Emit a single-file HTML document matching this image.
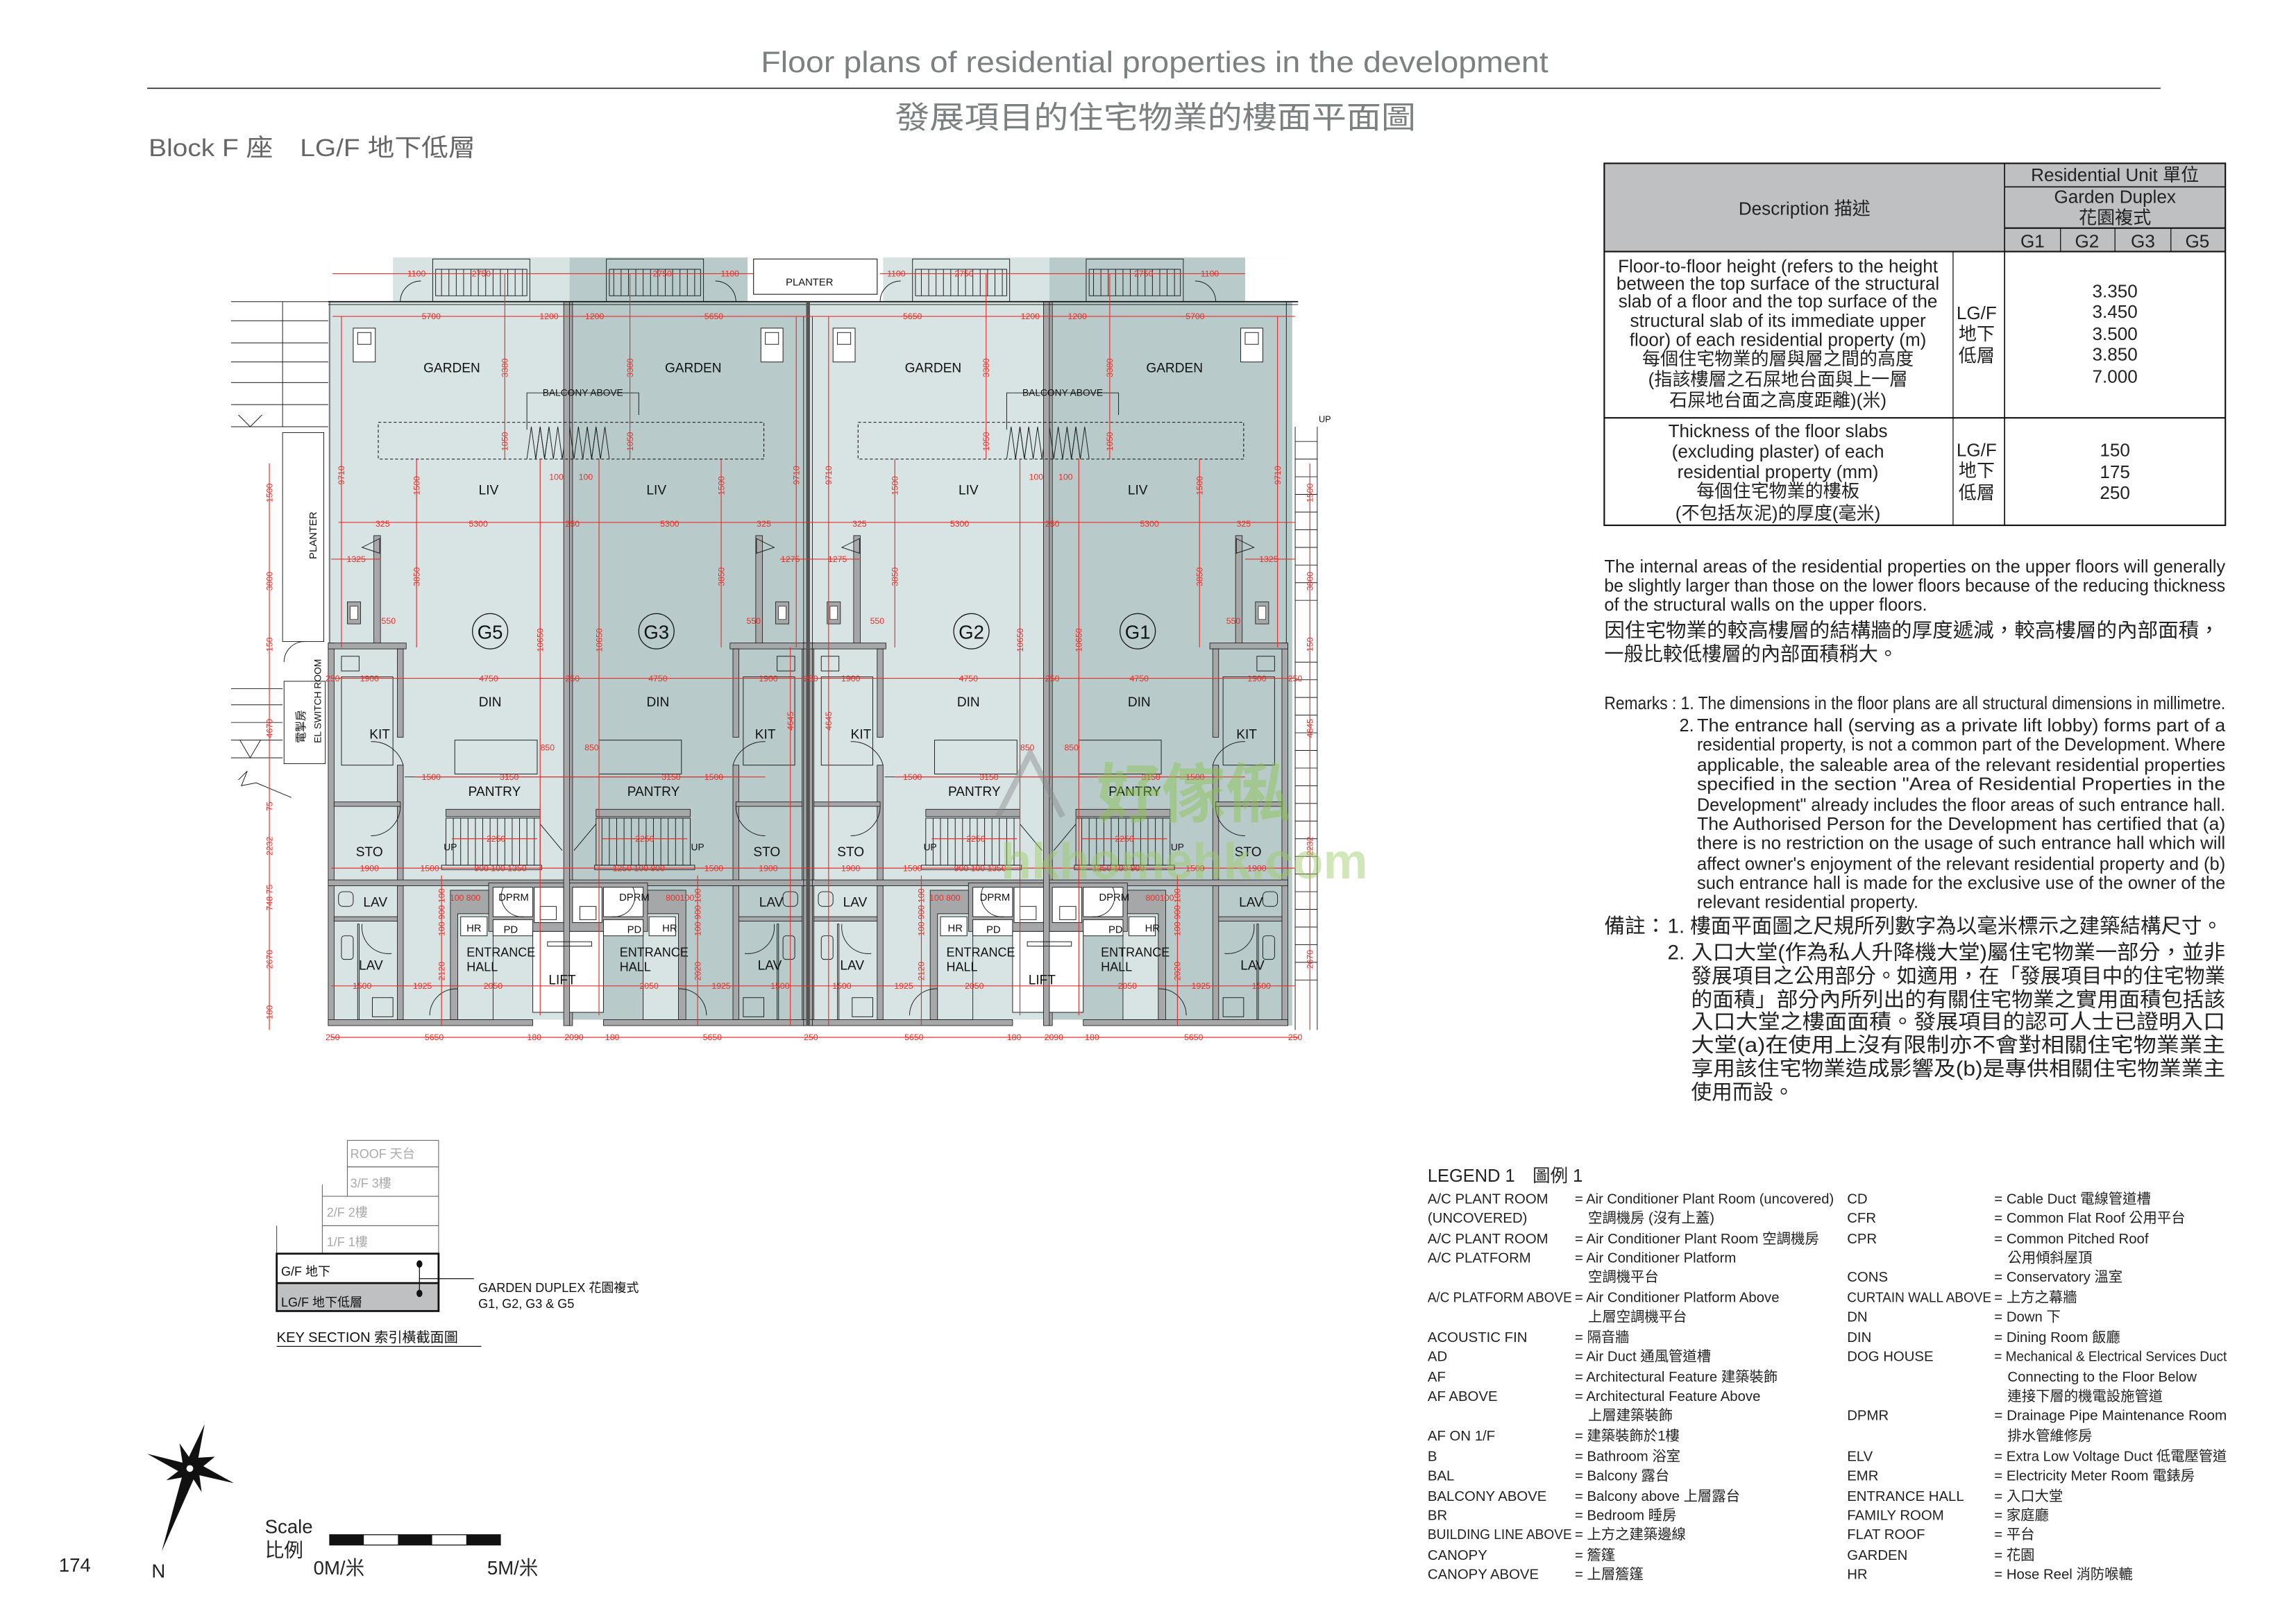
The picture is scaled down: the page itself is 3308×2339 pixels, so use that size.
<!DOCTYPE html>
<html><head><meta charset="utf-8">
<style>
html,body{margin:0;padding:0;background:#fff;}
svg{display:block;}
text{font-family:"Liberation Sans","Noto Sans CJK TC",sans-serif;}
.pl{font-size:9px;fill:#111;}
.dm{font-size:5.8px;fill:#e5302a;}
.red{stroke:#e5302a;stroke-width:0.55;fill:none;}
.wall{fill:#a6a7a9;stroke:#1a1a1a;stroke-width:0.4;}
.ln{stroke:#1a1a1a;stroke-width:0.45;fill:none;}
.wh{fill:#fff;stroke:#1a1a1a;stroke-width:0.45;}
</style></head>
<body>
<svg width="3308" height="2339" viewBox="0 0 1560 1103" preserveAspectRatio="none" xmlns="http://www.w3.org/2000/svg">
<rect width="1560" height="1103" fill="#fff"/>
<text x="517" y="49" font-size="20" fill="#7b8080" textLength="535" lengthAdjust="spacingAndGlyphs">Floor plans of residential properties in the development</text>
<line x1="100" y1="60" x2="1468" y2="60" stroke="#333" stroke-width="0.8"/>
<text x="608" y="87" font-size="21" fill="#7b8080" textLength="354" lengthAdjust="spacingAndGlyphs">發展項目的住宅物業的樓面平面圖</text>
<text x="101" y="106" font-size="16.5" fill="#666" textLength="222" lengthAdjust="spacingAndGlyphs">Block F 座　LG/F 地下低層</text>

<!-- Table -->
<g font-size="12.3" fill="#222">
<rect x="1090" y="111" width="422" height="60" fill="#bfc0c2"/>
<rect x="1090" y="111" width="422" height="246" fill="none" stroke="#111" stroke-width="1"/>
<line x1="1362" y1="111" x2="1362" y2="357" stroke="#111" stroke-width="0.8"/>
<line x1="1362" y1="127" x2="1512" y2="127" stroke="#111" stroke-width="0.8"/>
<line x1="1362" y1="155" x2="1512" y2="155" stroke="#111" stroke-width="1"/>
<line x1="1400" y1="155" x2="1400" y2="171" stroke="#111" stroke-width="0.6"/>
<line x1="1437" y1="155" x2="1437" y2="171" stroke="#111" stroke-width="0.6"/>
<line x1="1475" y1="155" x2="1475" y2="171" stroke="#111" stroke-width="0.6"/>
<line x1="1090" y1="171" x2="1512" y2="171" stroke="#111" stroke-width="1"/>
<line x1="1090" y1="284" x2="1512" y2="284" stroke="#111" stroke-width="1"/>
<line x1="1327" y1="171" x2="1327" y2="357" stroke="#111" stroke-width="0.6"/>
<text x="1437" y="123" text-anchor="middle">Residential Unit 單位</text>
<text x="1437" y="138" text-anchor="middle">Garden Duplex</text>
<text x="1437" y="152" text-anchor="middle">花園複式</text>
<text x="1226" y="146" text-anchor="middle">Description 描述</text>
<text x="1381" y="168" text-anchor="middle">G1</text>
<text x="1418" y="168" text-anchor="middle">G2</text>
<text x="1456" y="168" text-anchor="middle">G3</text>
<text x="1493" y="168" text-anchor="middle">G5</text>
<g text-anchor="middle">
<text x="1208" y="185">Floor-to-floor height (refers to the height</text>
<text x="1208" y="197">between the top surface of the structural</text>
<text x="1208" y="209">slab of a floor and the top surface of the</text>
<text x="1208" y="222">structural slab of its immediate upper</text>
<text x="1208" y="235">floor) of each residential property (m)</text>
<text x="1208" y="248">每個住宅物業的層與層之間的高度</text>
<text x="1208" y="262">(指該樓層之石屎地台面與上一層</text>
<text x="1208" y="276">石屎地台面之高度距離)(米)</text>
<text x="1343" y="217">LG/F</text><text x="1343" y="231">地下</text><text x="1343" y="246">低層</text>
<text x="1437" y="202">3.350</text><text x="1437" y="216">3.450</text><text x="1437" y="231">3.500</text><text x="1437" y="245">3.850</text><text x="1437" y="260">7.000</text>
<text x="1208" y="297">Thickness of the floor slabs</text>
<text x="1208" y="311">(excluding plaster) of each</text>
<text x="1208" y="325">residential property (mm)</text>
<text x="1208" y="338">每個住宅物業的樓板</text>
<text x="1208" y="353">(不包括灰泥)的厚度(毫米)</text>
<text x="1343" y="310">LG/F</text><text x="1343" y="324">地下</text><text x="1343" y="339">低層</text>
<text x="1437" y="310">150</text><text x="1437" y="325">175</text><text x="1437" y="339">250</text>
</g>
</g>

<!-- Paragraph -->
<g font-size="12" fill="#222">
<text x="1090" y="389" textLength="422" lengthAdjust="spacingAndGlyphs">The internal areas of the residential properties on the upper floors will generally</text>
<text x="1090" y="402" textLength="422" lengthAdjust="spacingAndGlyphs">be slightly larger than those on the lower floors because of the reducing thickness</text>
<text x="1090" y="415">of the structural walls on the upper floors.</text>
<text x="1090" y="433" font-size="13.3" textLength="418" lengthAdjust="spacingAndGlyphs">因住宅物業的較高樓層的結構牆的厚度遞減，較高樓層的內部面積，</text>
<text x="1090" y="449" font-size="13.3">一般比較低樓層的內部面積稍大。</text>

<text x="1090" y="482" textLength="422" lengthAdjust="spacingAndGlyphs">Remarks : 1. The dimensions in the floor plans are all structural dimensions in millimetre.</text>
<text x="1141" y="497">2.</text>
<text x="1153" y="497" textLength="359" lengthAdjust="spacingAndGlyphs">The entrance hall (serving as a private lift lobby) forms part of a</text>
<text x="1153" y="510" textLength="359" lengthAdjust="spacingAndGlyphs">residential property, is not a common part of the Development. Where</text>
<text x="1153" y="524" textLength="359" lengthAdjust="spacingAndGlyphs">applicable, the saleable area of the relevant residential properties</text>
<text x="1153" y="537" textLength="359" lengthAdjust="spacingAndGlyphs">specified in the section "Area of Residential Properties in the</text>
<text x="1153" y="551" textLength="359" lengthAdjust="spacingAndGlyphs">Development" already includes the floor areas of such entrance hall.</text>
<text x="1153" y="564" textLength="359" lengthAdjust="spacingAndGlyphs">The Authorised Person for the Development has certified that (a)</text>
<text x="1153" y="577" textLength="359" lengthAdjust="spacingAndGlyphs">there is no restriction on the usage of such entrance hall which will</text>
<text x="1153" y="591" textLength="359" lengthAdjust="spacingAndGlyphs">affect owner's enjoyment of the relevant residential property and (b)</text>
<text x="1153" y="604" textLength="359" lengthAdjust="spacingAndGlyphs">such entrance hall is made for the exclusive use of the owner of the</text>
<text x="1153" y="617">relevant residential property.</text>
<g font-size="14">
<text x="1090" y="634">備註：</text>
<text x="1133" y="634" textLength="377" lengthAdjust="spacingAndGlyphs">1. 樓面平面圖之尺規所列數字為以毫米標示之建築結構尺寸。</text>
<text x="1133" y="652">2.</text>
<text x="1149" y="652" textLength="363" lengthAdjust="spacingAndGlyphs">入口大堂(作為私人升降機大堂)屬住宅物業一部分，並非</text>
<text x="1149" y="668" textLength="363" lengthAdjust="spacingAndGlyphs">發展項目之公用部分。如適用，在「發展項目中的住宅物業</text>
<text x="1149" y="684" textLength="363" lengthAdjust="spacingAndGlyphs">的面積」部分內所列出的有關住宅物業之實用面積包括該</text>
<text x="1149" y="699" textLength="363" lengthAdjust="spacingAndGlyphs">入口大堂之樓面面積。發展項目的認可人士已證明入口</text>
<text x="1149" y="715" textLength="363" lengthAdjust="spacingAndGlyphs">大堂(a)在使用上沒有限制亦不會對相關住宅物業業主</text>
<text x="1149" y="731" textLength="363" lengthAdjust="spacingAndGlyphs">享用該住宅物業造成影響及(b)是專供相關住宅物業業主</text>
<text x="1149" y="747">使用而設。</text>
</g>
</g>

<!-- Legend -->
<g font-size="9.6" fill="#222">
<text x="970" y="803" font-size="12">LEGEND 1　圖例 1</text>
<text x="970" y="818">A/C PLANT ROOM</text><text x="1070" y="818" textLength="176" lengthAdjust="spacingAndGlyphs">= Air Conditioner Plant Room (uncovered)</text>
<text x="970" y="831">(UNCOVERED)</text><text x="1079" y="831">空調機房 (沒有上蓋)</text>
<text x="970" y="845">A/C PLANT ROOM</text><text x="1070" y="845" textLength="166" lengthAdjust="spacingAndGlyphs">= Air Conditioner Plant Room 空調機房</text>
<text x="970" y="858">A/C PLATFORM</text><text x="1070" y="858">= Air Conditioner Platform</text>
<text x="1079" y="871">空調機平台</text>
<text x="970" y="885" textLength="98" lengthAdjust="spacingAndGlyphs">A/C PLATFORM ABOVE</text><text x="1070" y="885">= Air Conditioner Platform Above</text>
<text x="1079" y="898">上層空調機平台</text>
<text x="970" y="912">ACOUSTIC FIN</text><text x="1070" y="912">= 隔音牆</text>
<text x="970" y="925">AD</text><text x="1070" y="925">= Air Duct 通風管道槽</text>
<text x="970" y="939">AF</text><text x="1070" y="939">= Architectural Feature 建築裝飾</text>
<text x="970" y="952">AF ABOVE</text><text x="1070" y="952">= Architectural Feature Above</text>
<text x="1079" y="965">上層建築裝飾</text>
<text x="970" y="979">AF ON 1/F</text><text x="1070" y="979">= 建築裝飾於1樓</text>
<text x="970" y="993">B</text><text x="1070" y="993">= Bathroom 浴室</text>
<text x="970" y="1006">BAL</text><text x="1070" y="1006">= Balcony 露台</text>
<text x="970" y="1020">BALCONY ABOVE</text><text x="1070" y="1020">= Balcony above 上層露台</text>
<text x="970" y="1033">BR</text><text x="1070" y="1033">= Bedroom 睡房</text>
<text x="970" y="1046" textLength="98" lengthAdjust="spacingAndGlyphs">BUILDING LINE ABOVE</text><text x="1070" y="1046">= 上方之建築邊線</text>
<text x="970" y="1060">CANOPY</text><text x="1070" y="1060">= 簷篷</text>
<text x="970" y="1073">CANOPY ABOVE</text><text x="1070" y="1073">= 上層簷篷</text>

<text x="1255" y="818">CD</text><text x="1355" y="818">= Cable Duct 電線管道槽</text>
<text x="1255" y="831">CFR</text><text x="1355" y="831">= Common Flat Roof 公用平台</text>
<text x="1255" y="845">CPR</text><text x="1355" y="845">= Common Pitched Roof</text>
<text x="1364" y="858">公用傾斜屋頂</text>
<text x="1255" y="871">CONS</text><text x="1355" y="871">= Conservatory 溫室</text>
<text x="1255" y="885" textLength="98" lengthAdjust="spacingAndGlyphs">CURTAIN WALL ABOVE</text><text x="1355" y="885">= 上方之幕牆</text>
<text x="1255" y="898">DN</text><text x="1355" y="898">= Down 下</text>
<text x="1255" y="912">DIN</text><text x="1355" y="912">= Dining Room 飯廳</text>
<text x="1255" y="925">DOG HOUSE</text><text x="1355" y="925" textLength="158" lengthAdjust="spacingAndGlyphs">= Mechanical &amp; Electrical Services Duct</text>
<text x="1364" y="939">Connecting to the Floor Below</text>
<text x="1364" y="952">連接下層的機電設施管道</text>
<text x="1255" y="965">DPMR</text><text x="1355" y="965" textLength="158" lengthAdjust="spacingAndGlyphs">= Drainage Pipe Maintenance Room</text>
<text x="1364" y="979">排水管維修房</text>
<text x="1255" y="993">ELV</text><text x="1355" y="993" textLength="158" lengthAdjust="spacingAndGlyphs">= Extra Low Voltage Duct 低電壓管道</text>
<text x="1255" y="1006">EMR</text><text x="1355" y="1006">= Electricity Meter Room 電錶房</text>
<text x="1255" y="1020">ENTRANCE HALL</text><text x="1355" y="1020">= 入口大堂</text>
<text x="1255" y="1033">FAMILY ROOM</text><text x="1355" y="1033">= 家庭廳</text>
<text x="1255" y="1046">FLAT ROOF</text><text x="1355" y="1046">= 平台</text>
<text x="1255" y="1060">GARDEN</text><text x="1355" y="1060">= 花園</text>
<text x="1255" y="1073">HR</text><text x="1355" y="1073">= Hose Reel 消防喉轆</text>
</g>

<!-- Key section -->
<g font-size="8.5">
<rect x="236" y="775" width="62" height="18" fill="none" stroke="#666" stroke-width="0.5"/>
<rect x="236" y="793" width="62" height="20" fill="none" stroke="#666" stroke-width="0.5"/>
<rect x="219" y="813" width="79" height="20" fill="none" stroke="#666" stroke-width="0.5"/>
<rect x="219" y="833" width="79" height="19" fill="none" stroke="#666" stroke-width="0.5"/>
<line x1="219" y1="805" x2="219" y2="813" stroke="#666" stroke-width="0.5"/>
<line x1="188" y1="833" x2="188" y2="852" stroke="#444" stroke-width="0.5"/>
<text x="238" y="787" fill="#aaa">ROOF 天台</text>
<text x="238" y="807" fill="#aaa">3/F 3樓</text>
<text x="222" y="827" fill="#aaa">2/F 2樓</text>
<text x="222" y="847" fill="#aaa">1/F 1樓</text>
<rect x="188" y="872" width="110" height="19" fill="#bfc0c2"/>
<rect x="188" y="852" width="110" height="39" fill="none" stroke="#111" stroke-width="1.3"/>
<line x1="188" y1="872" x2="298" y2="872" stroke="#111" stroke-width="1.3"/>
<text x="191" y="867" fill="#111">G/F 地下</text>
<text x="191" y="888" fill="#111">LG/F 地下低層</text>
<line x1="285" y1="859" x2="285" y2="879" stroke="#111" stroke-width="0.6"/>
<line x1="285" y1="869" x2="322" y2="869" stroke="#111" stroke-width="0.6"/>
<ellipse cx="285" cy="859" rx="2" ry="2.5" fill="#111"/>
<ellipse cx="285" cy="879" rx="2" ry="2.5" fill="#111"/>
<text x="325" y="878" fill="#111">GARDEN DUPLEX 花園複式</text>
<text x="325" y="889" fill="#111">G1, G2, G3 &amp; G5</text>
<text x="188" y="912" font-size="9.5" fill="#111">KEY SECTION 索引橫截面圖</text>
<line x1="188" y1="915" x2="327" y2="915" stroke="#111" stroke-width="0.6"/>
</g>

<!-- North arrow -->
<polygon points="139,968 132,993 159,1008 133,1002 110,1054 125,1002 100,988 124,994 122,981 129,991 146,990 135,999 137,1014 130,1003 113,1006 126,996" fill="#111"/>
<polygon points="139,968 133,1000 110,1054 126,995" fill="#111"/>
<circle cx="129" cy="998" r="2.3" fill="#fff"/>
<text x="103" y="1072" font-size="13" fill="#222">N</text>
<text x="40" y="1068" font-size="13" fill="#222">174</text>
<text x="180" y="1042" font-size="13" fill="#222">Scale</text>
<text x="180" y="1058" font-size="13" fill="#222">比例</text>
<rect x="224" y="1043" width="116" height="7" fill="#fff" stroke="#111" stroke-width="0.6"/>
<rect x="224" y="1043" width="23.2" height="7" fill="#111"/>
<rect x="270.4" y="1043" width="23.2" height="7" fill="#111"/>
<rect x="316.8" y="1043" width="23.2" height="7" fill="#111"/>
<text x="213" y="1070" font-size="13" fill="#222">0M/米</text>
<text x="331" y="1070" font-size="13" fill="#222">5M/米</text>

<!-- ================= FLOOR PLAN ================= -->
<defs>
<g id="unit">
  <rect x="240" y="223" width="15" height="23" class="wh" fill="none"/>
  <rect x="243" y="226" width="9" height="8" class="ln"/>
  <line x1="224" y1="205" x2="224" y2="437" class="ln"/>
  <rect x="223" y="437" width="4" height="260" class="wall"/>
  <rect x="254" y="364" width="4.5" height="76" class="wall"/>
  <polygon points="258,366 246,372 258,376" class="ln"/>
  <rect x="236" y="409" width="9" height="15" class="wall"/>
  <rect x="238" y="412" width="5" height="9" fill="#fff" stroke="#111" stroke-width="0.3"/>
  <rect x="223" y="437" width="53" height="4" class="wall"/>
  <rect x="270" y="441" width="4" height="60" class="wall"/>
  <rect x="270" y="520" width="4" height="80" class="wall"/>
  <path d="M274,520 A22,22 0 0 0 252,504" class="ln"/>
  <rect x="232" y="446" width="12" height="10" class="ln"/>
  <rect x="232" y="460" width="35" height="60" class="ln"/>
  <rect x="227" y="545" width="45" height="3" class="wall"/>
  <path d="M272,548 A20,20 0 0 1 252,568" class="ln"/>
  <rect x="223" y="598" width="164" height="4" class="wall"/>
  <rect x="227" y="623" width="45" height="3" class="wall"/>
  <rect x="270" y="602" width="4" height="91" class="wall"/>
  <rect x="230" y="606" width="10" height="10" rx="3" class="ln"/>
  <rect x="232" y="636" width="8" height="16" rx="2" class="ln"/>
  <rect x="243" y="628" width="1" height="65" class="ln"/>
  <path d="M246,628 A18,18 0 0 0 266,648" class="ln"/>
  <rect x="253" y="678" width="14" height="13" class="ln"/>
  <rect x="309" y="503" width="56" height="23" class="ln"/>
  <line x1="275" y1="528" x2="385" y2="528" class="ln"/>
  <rect x="303" y="550" width="64" height="5" class="wall"/>
  <rect x="303" y="556" width="64" height="32" fill="none" class="ln"/>
  <g class="ln">
   <line x1="308" y1="556" x2="308" y2="588"/><line x1="313" y1="556" x2="313" y2="588"/><line x1="318" y1="556" x2="318" y2="588"/><line x1="323" y1="556" x2="323" y2="588"/><line x1="328" y1="556" x2="328" y2="588"/><line x1="333" y1="556" x2="333" y2="588"/><line x1="338" y1="556" x2="338" y2="588"/><line x1="343" y1="556" x2="343" y2="588"/><line x1="348" y1="556" x2="348" y2="588"/><line x1="353" y1="556" x2="353" y2="588"/><line x1="358" y1="556" x2="358" y2="588"/><line x1="363" y1="556" x2="363" y2="588"/>
  </g>
  <rect x="300" y="588" width="68" height="3" class="ln"/>
  <line x1="367" y1="560" x2="382" y2="578" class="ln"/>
  <rect x="306" y="605" width="28" height="88" class="wall"/>
  <rect x="311" y="621" width="24" height="72" fill="#d7e4e3" stroke="#111" stroke-width="0.4"/>
  <rect x="313" y="623" width="18" height="13" class="wh"/>
  <rect x="332" y="600" width="53" height="33" class="wall"/>
  <rect x="335" y="603" width="27" height="20" class="wh"/>
  <rect x="335" y="625" width="27" height="11" class="wh"/>
  <rect x="363" y="603" width="20" height="24" class="wh"/>
  <rect x="367" y="616" width="11" height="9" class="ln"/>
  <path d="M342,603 A14,14 0 0 0 356,623" class="ln"/>
  <rect x="362" y="633" width="25" height="55" class="wh"/>
  <path d="M311,672 A18,18 0 0 0 292,690" class="ln"/>
  <rect x="223" y="693" width="139" height="4" class="wall"/>
  <rect x="385" y="205" width="4" height="492" class="wall"/>
  <polyline points="358,312 361,290 364,312 367,290 370,312 373,290 376,312 379,290 382,312 385,290" class="ln"/>
  <polyline points="364,312 367,290 370,312 373,290" class="ln" stroke-width="0.8"/>
  <rect x="294" y="176" width="66" height="29" fill="none" class="ln"/>
  <rect x="296" y="183" width="62" height="18" fill="none" class="ln"/>
  <g class="ln"><line x1="300" y1="183" x2="300" y2="201"/><line x1="305" y1="183" x2="305" y2="201"/><line x1="310" y1="183" x2="310" y2="201"/><line x1="315" y1="183" x2="315" y2="201"/><line x1="320" y1="183" x2="320" y2="201"/><line x1="325" y1="183" x2="325" y2="201"/><line x1="330" y1="183" x2="330" y2="201"/><line x1="335" y1="183" x2="335" y2="201"/><line x1="340" y1="183" x2="340" y2="201"/><line x1="345" y1="183" x2="345" y2="201"/><line x1="350" y1="183" x2="350" y2="201"/><line x1="355" y1="183" x2="355" y2="201"/></g>
  <path d="M272,205 A14,14 0 0 1 286,191" class="ln"/>
</g>
</defs>

<rect x="223" y="175" width="164" height="522" fill="#d7e4e3"/>
<rect x="387" y="175" width="162" height="522" fill="#b8cbca"/>
<rect x="549" y="175" width="164" height="522" fill="#d7e4e3"/>
<rect x="713" y="175" width="165" height="522" fill="#b8cbca"/>
<rect x="223" y="175" width="44" height="30" fill="#fff"/>
<rect x="508" y="175" width="92" height="30" fill="#fff"/>
<rect x="846" y="175" width="34" height="30" fill="#fff"/>
<rect x="362" y="693" width="50" height="10" fill="#fff"/>
<rect x="688" y="693" width="50" height="10" fill="#fff"/>

<use href="#unit"/>
<use href="#unit" transform="translate(772,0) scale(-1,1)"/>
<use href="#unit" transform="translate(326,0)"/>
<use href="#unit" transform="translate(1098,0) scale(-1,1)"/>

<rect x="372" y="640" width="30" height="3" class="ln"/>
<rect x="698" y="640" width="30" height="3" class="ln"/>
<line x1="223" y1="205" x2="882" y2="205" stroke="#111" stroke-width="0.8"/>
<line x1="223" y1="207" x2="882" y2="207" stroke="#111" stroke-width="0.4"/>
<rect x="512" y="176" width="84" height="24" fill="#fff" stroke="#111" stroke-width="0.5"/>
<text x="550" y="194" text-anchor="middle" font-size="7" fill="#111">PLANTER</text>
<line x1="549" y1="205" x2="549" y2="697" stroke="#555" stroke-width="2.5"/>
<line x1="546" y1="215" x2="546" y2="697" stroke="#111" stroke-width="0.4"/>
<line x1="552" y1="215" x2="552" y2="697" stroke="#111" stroke-width="0.4"/>
<rect x="257" y="287" width="262" height="25" fill="none" stroke="#111" stroke-width="0.5" stroke-dasharray="2,1.5"/>
<rect x="583" y="287" width="262" height="25" fill="none" stroke="#111" stroke-width="0.5" stroke-dasharray="2,1.5"/>
<polyline points="358,292 358,267 434,267 434,282" class="ln"/>
<polyline points="684,292 684,267 760,267 760,282" class="ln"/>
<text x="396" y="269" text-anchor="middle" font-size="6.5" fill="#111">BALCONY  ABOVE</text>
<text x="722" y="269" text-anchor="middle" font-size="6.5" fill="#111">BALCONY  ABOVE</text>

<g class="ln">
<line x1="157" y1="205" x2="223" y2="205"/><line x1="157" y1="218" x2="223" y2="218"/><line x1="157" y1="233" x2="223" y2="233"/><line x1="157" y1="246" x2="223" y2="246"/><line x1="157" y1="260" x2="223" y2="260"/><line x1="157" y1="275" x2="223" y2="275"/><line x1="157" y1="290" x2="223" y2="290"/>
<line x1="192" y1="205" x2="192" y2="290"/>
<polyline points="162,282 170,290 178,282"/>
<rect x="192" y="294" width="28" height="142"/>
<rect x="193" y="463" width="28" height="56"/>
<line x1="157" y1="468" x2="192" y2="468"/><line x1="157" y1="479" x2="192" y2="479"/><line x1="157" y1="491" x2="192" y2="491"/><line x1="157" y1="503" x2="192" y2="503"/><line x1="157" y1="515" x2="192" y2="515"/>
<polyline points="163,503 170,515 177,503"/>
<path d="M162,530 l6,-6 l-4,10 l10,-2 l24,10"/>
<path d="M193,450 A14,14 0 0 1 207,436"/>
<line x1="880" y1="290" x2="880" y2="700"/><line x1="895" y1="290" x2="895" y2="700"/>
<line x1="880" y1="300" x2="895" y2="300"/><line x1="880" y1="312" x2="895" y2="312"/><line x1="880" y1="324" x2="895" y2="324"/><line x1="880" y1="336" x2="895" y2="336"/><line x1="880" y1="348" x2="895" y2="348"/><line x1="880" y1="360" x2="895" y2="360"/><line x1="880" y1="372" x2="895" y2="372"/><line x1="880" y1="384" x2="895" y2="384"/><line x1="880" y1="396" x2="895" y2="396"/><line x1="880" y1="408" x2="895" y2="408"/>
<line x1="880" y1="450" x2="895" y2="450"/><line x1="880" y1="462" x2="895" y2="462"/><line x1="880" y1="474" x2="895" y2="474"/><line x1="880" y1="486" x2="895" y2="486"/><line x1="880" y1="498" x2="895" y2="498"/><line x1="880" y1="510" x2="895" y2="510"/><line x1="880" y1="522" x2="895" y2="522"/><line x1="880" y1="534" x2="895" y2="534"/><line x1="880" y1="546" x2="895" y2="546"/><line x1="880" y1="558" x2="895" y2="558"/><line x1="880" y1="570" x2="895" y2="570"/><line x1="880" y1="582" x2="895" y2="582"/><line x1="880" y1="594" x2="895" y2="594"/><line x1="880" y1="606" x2="895" y2="606"/><line x1="880" y1="618" x2="895" y2="618"/><line x1="880" y1="630" x2="895" y2="630"/><line x1="880" y1="642" x2="895" y2="642"/><line x1="880" y1="654" x2="895" y2="654"/><line x1="880" y1="666" x2="895" y2="666"/>
</g>
<text x="896" y="287" font-size="6" fill="#111">UP</text>
<text transform="translate(215,380) rotate(-90)" font-size="7" fill="#111">PLANTER</text>
<text transform="translate(207,505) rotate(-90)" font-size="7.5" fill="#111">電掣房</text>
<text transform="translate(218,505) rotate(-90)" font-size="6.5" fill="#111">EL SWITCH ROOM</text>

<g class="red">
<line x1="226" y1="186" x2="512" y2="186"/><line x1="598" y1="186" x2="846" y2="186"/>
<line x1="226" y1="215" x2="880" y2="215"/>
<line x1="230" y1="355" x2="880" y2="355"/>
<line x1="225" y1="380" x2="258" y2="380"/><line x1="530" y1="380" x2="584" y2="380"/><line x1="846" y1="380" x2="880" y2="380"/>
<line x1="225" y1="461" x2="880" y2="461"/>
<line x1="225" y1="590" x2="880" y2="590"/>
<line x1="225" y1="670" x2="880" y2="670"/>
<line x1="225" y1="705" x2="882" y2="705"/>
<line x1="183" y1="315" x2="183" y2="700"/>
<line x1="890" y1="315" x2="890" y2="700"/>
<line x1="232" y1="215" x2="232" y2="440"/><line x1="541" y1="215" x2="541" y2="440"/><line x1="563" y1="215" x2="563" y2="440"/><line x1="868" y1="215" x2="868" y2="440"/>
<line x1="343" y1="186" x2="343" y2="312"/><line x1="428" y1="186" x2="428" y2="312"/><line x1="670" y1="186" x2="670" y2="312"/><line x1="754" y1="186" x2="754" y2="312"/>
<line x1="367" y1="312" x2="367" y2="690"/><line x1="407" y1="312" x2="407" y2="690"/><line x1="693" y1="312" x2="693" y2="690"/><line x1="733" y1="312" x2="733" y2="690"/>
<line x1="283" y1="312" x2="283" y2="440"/><line x1="490" y1="312" x2="490" y2="440"/><line x1="608" y1="312" x2="608" y2="440"/><line x1="815" y1="312" x2="815" y2="440"/>
<line x1="537" y1="440" x2="537" y2="697"/><line x1="563" y1="440" x2="563" y2="697"/>
<line x1="300" y1="595" x2="300" y2="697"/><line x1="474" y1="595" x2="474" y2="697"/><line x1="626" y1="595" x2="626" y2="697"/><line x1="800" y1="595" x2="800" y2="697"/>
<line x1="282" y1="528" x2="520" y2="528"/><line x1="608" y1="528" x2="846" y2="528"/>
<line x1="307" y1="570" x2="365" y2="570"/><line x1="409" y1="570" x2="467" y2="570"/><line x1="633" y1="570" x2="691" y2="570"/><line x1="735" y1="570" x2="793" y2="570"/>
</g>
<g class="dm">
<text x="283" y="188" text-anchor="middle">1100</text><text x="327" y="188" text-anchor="middle">2750</text><text x="450" y="188" text-anchor="middle">2750</text><text x="496" y="188" text-anchor="middle">1100</text>
<text x="609" y="188" text-anchor="middle">1100</text><text x="655" y="188" text-anchor="middle">2750</text><text x="777" y="188" text-anchor="middle">2750</text><text x="822" y="188" text-anchor="middle">1100</text>
<text x="293" y="217" text-anchor="middle">5700</text><text x="373" y="217" text-anchor="middle">1200</text><text x="404" y="217" text-anchor="middle">1200</text><text x="485" y="217" text-anchor="middle">5650</text>
<text x="620" y="217" text-anchor="middle">5650</text><text x="700" y="217" text-anchor="middle">1200</text><text x="732" y="217" text-anchor="middle">1200</text><text x="812" y="217" text-anchor="middle">5700</text>
<text x="325" y="358" text-anchor="middle">5300</text><text x="455" y="358" text-anchor="middle">5300</text><text x="652" y="358" text-anchor="middle">5300</text><text x="781" y="358" text-anchor="middle">5300</text>
<text x="260" y="358" text-anchor="middle">325</text><text x="389" y="358" text-anchor="middle">250</text><text x="519" y="358" text-anchor="middle">325</text><text x="584" y="358" text-anchor="middle">325</text><text x="715" y="358" text-anchor="middle">250</text><text x="845" y="358" text-anchor="middle">325</text>
<text x="242" y="382" text-anchor="middle">1325</text><text x="537" y="382" text-anchor="middle">1275</text><text x="569" y="382" text-anchor="middle">1275</text><text x="862" y="382" text-anchor="middle">1325</text>
<text x="251" y="463" text-anchor="middle">1900</text><text x="332" y="463" text-anchor="middle">4750</text><text x="447" y="463" text-anchor="middle">4750</text><text x="522" y="463" text-anchor="middle">1900</text>
<text x="578" y="463" text-anchor="middle">1900</text><text x="658" y="463" text-anchor="middle">4750</text><text x="774" y="463" text-anchor="middle">4750</text><text x="854" y="463" text-anchor="middle">1900</text>
<text x="226" y="463" text-anchor="middle">250</text><text x="389" y="463" text-anchor="middle">250</text><text x="551" y="463" text-anchor="middle">250</text><text x="715" y="463" text-anchor="middle">250</text><text x="880" y="463" text-anchor="middle">250</text>
<text x="293" y="530" text-anchor="middle">1500</text><text x="346" y="530" text-anchor="middle">3150</text><text x="456" y="530" text-anchor="middle">3150</text><text x="485" y="530" text-anchor="middle">1500</text>
<text x="620" y="530" text-anchor="middle">1500</text><text x="672" y="530" text-anchor="middle">3150</text><text x="782" y="530" text-anchor="middle">3150</text><text x="812" y="530" text-anchor="middle">1500</text>
<text x="337" y="572" text-anchor="middle">2250</text><text x="438" y="572" text-anchor="middle">2250</text><text x="663" y="572" text-anchor="middle">2250</text><text x="764" y="572" text-anchor="middle">2250</text>
<text x="251" y="592" text-anchor="middle">1900</text><text x="292" y="592" text-anchor="middle">1500</text><text x="340" y="592" text-anchor="middle">900 100 1350</text><text x="434" y="592" text-anchor="middle">1250 100 900</text><text x="485" y="592" text-anchor="middle">1500</text><text x="522" y="592" text-anchor="middle">1900</text>
<text x="578" y="592" text-anchor="middle">1900</text><text x="620" y="592" text-anchor="middle">1500</text><text x="666" y="592" text-anchor="middle">900 100 1350</text><text x="760" y="592" text-anchor="middle">1250 100 900</text><text x="812" y="592" text-anchor="middle">1500</text><text x="854" y="592" text-anchor="middle">1900</text>
<text x="246" y="672" text-anchor="middle">1500</text><text x="287" y="672" text-anchor="middle">1925</text><text x="335" y="672" text-anchor="middle">2050</text><text x="441" y="672" text-anchor="middle">2050</text><text x="490" y="672" text-anchor="middle">1925</text><text x="530" y="672" text-anchor="middle">1500</text>
<text x="572" y="672" text-anchor="middle">1500</text><text x="614" y="672" text-anchor="middle">1925</text><text x="662" y="672" text-anchor="middle">2050</text><text x="766" y="672" text-anchor="middle">2050</text><text x="816" y="672" text-anchor="middle">1925</text><text x="857" y="672" text-anchor="middle">1500</text>
<text x="226" y="707" text-anchor="middle">250</text><text x="295" y="707" text-anchor="middle">5650</text><text x="363" y="707" text-anchor="middle">180</text><text x="390" y="707" text-anchor="middle">2090</text><text x="416" y="707" text-anchor="middle">180</text><text x="484" y="707" text-anchor="middle">5650</text><text x="551" y="707" text-anchor="middle">250</text>
<text x="621" y="707" text-anchor="middle">5650</text><text x="689" y="707" text-anchor="middle">180</text><text x="716" y="707" text-anchor="middle">2090</text><text x="742" y="707" text-anchor="middle">180</text><text x="811" y="707" text-anchor="middle">5650</text><text x="880" y="707" text-anchor="middle">250</text>
<text transform="translate(185,335) rotate(-90)" text-anchor="middle">1500</text>
<text transform="translate(185,395) rotate(-90)" text-anchor="middle">3800</text>
<text transform="translate(185,438) rotate(-90)" text-anchor="middle">150</text>
<text transform="translate(185,495) rotate(-90)" text-anchor="middle">4670</text>
<text transform="translate(185,548) rotate(-90)" text-anchor="middle">75</text>
<text transform="translate(185,575) rotate(-90)" text-anchor="middle">2232</text>
<text transform="translate(185,610) rotate(-90)" text-anchor="middle">748 75</text>
<text transform="translate(185,652) rotate(-90)" text-anchor="middle">2670</text>
<text transform="translate(185,688) rotate(-90)" text-anchor="middle">180</text>
<text transform="translate(892,335) rotate(-90)" text-anchor="middle">1500</text>
<text transform="translate(892,395) rotate(-90)" text-anchor="middle">3800</text>
<text transform="translate(892,438) rotate(-90)" text-anchor="middle">150</text>
<text transform="translate(892,495) rotate(-90)" text-anchor="middle">4645</text>
<text transform="translate(892,575) rotate(-90)" text-anchor="middle">2232</text>
<text transform="translate(892,652) rotate(-90)" text-anchor="middle">2670</text>
<text transform="translate(234,323) rotate(-90)" text-anchor="middle">9710</text><text transform="translate(543,323) rotate(-90)" text-anchor="middle">9710</text><text transform="translate(565,323) rotate(-90)" text-anchor="middle">9710</text><text transform="translate(870,323) rotate(-90)" text-anchor="middle">9710</text>
<text transform="translate(345,250) rotate(-90)" text-anchor="middle">3380</text><text transform="translate(430,250) rotate(-90)" text-anchor="middle">3380</text><text transform="translate(672,250) rotate(-90)" text-anchor="middle">3380</text><text transform="translate(756,250) rotate(-90)" text-anchor="middle">3380</text>
<text transform="translate(345,300) rotate(-90)" text-anchor="middle">1050</text><text transform="translate(430,300) rotate(-90)" text-anchor="middle">1050</text><text transform="translate(672,300) rotate(-90)" text-anchor="middle">1050</text><text transform="translate(756,300) rotate(-90)" text-anchor="middle">1050</text>
<text transform="translate(369,435) rotate(-90)" text-anchor="middle">10650</text><text transform="translate(409,435) rotate(-90)" text-anchor="middle">10650</text><text transform="translate(695,435) rotate(-90)" text-anchor="middle">10650</text><text transform="translate(735,435) rotate(-90)" text-anchor="middle">10650</text>
<text transform="translate(285,330) rotate(-90)" text-anchor="middle">1500</text><text transform="translate(492,330) rotate(-90)" text-anchor="middle">1500</text><text transform="translate(610,330) rotate(-90)" text-anchor="middle">1500</text><text transform="translate(817,330) rotate(-90)" text-anchor="middle">1500</text>
<text transform="translate(285,392) rotate(-90)" text-anchor="middle">3850</text><text transform="translate(492,392) rotate(-90)" text-anchor="middle">3850</text><text transform="translate(610,392) rotate(-90)" text-anchor="middle">3850</text><text transform="translate(817,392) rotate(-90)" text-anchor="middle">3850</text>
<text transform="translate(539,490) rotate(-90)" text-anchor="middle">4645</text><text transform="translate(565,490) rotate(-90)" text-anchor="middle">4645</text>
<text transform="translate(302,660) rotate(-90)" text-anchor="middle">2120</text><text transform="translate(476,660) rotate(-90)" text-anchor="middle">2020</text><text transform="translate(628,660) rotate(-90)" text-anchor="middle">2120</text><text transform="translate(802,660) rotate(-90)" text-anchor="middle">2020</text>
<text transform="translate(302,620) rotate(-90)" text-anchor="middle">100 900 100</text><text transform="translate(476,620) rotate(-90)" text-anchor="middle">100 900 100</text><text transform="translate(628,620) rotate(-90)" text-anchor="middle">100 900 100</text><text transform="translate(802,620) rotate(-90)" text-anchor="middle">100 900 100</text>
<text x="264" y="424" text-anchor="middle">550</text><text x="512" y="424" text-anchor="middle">550</text><text x="596" y="424" text-anchor="middle">550</text><text x="838" y="424" text-anchor="middle">550</text>
<text x="378" y="326" text-anchor="middle">100</text><text x="398" y="326" text-anchor="middle">100</text><text x="704" y="326" text-anchor="middle">100</text><text x="724" y="326" text-anchor="middle">100</text>
<text x="372" y="510" text-anchor="middle">850</text><text x="402" y="510" text-anchor="middle">850</text><text x="698" y="510" text-anchor="middle">850</text><text x="728" y="510" text-anchor="middle">850</text>
<text x="316" y="612" text-anchor="middle">100 800</text><text x="462" y="612" text-anchor="middle">800100</text><text x="642" y="612" text-anchor="middle">100 800</text><text x="788" y="612" text-anchor="middle">800100</text>
</g>

<g class="pl" text-anchor="middle">
<text x="307" y="253">GARDEN</text><text x="471" y="253">GARDEN</text><text x="634" y="253">GARDEN</text><text x="798" y="253">GARDEN</text>
<text x="332" y="336">LIV</text><text x="446" y="336">LIV</text><text x="658" y="336">LIV</text><text x="773" y="336">LIV</text>
<text x="333" y="480">DIN</text><text x="447" y="480">DIN</text><text x="658" y="480">DIN</text><text x="774" y="480">DIN</text>
<text x="258" y="502">KIT</text><text x="520" y="502">KIT</text><text x="585" y="502">KIT</text><text x="847" y="502">KIT</text>
<text x="336" y="541">PANTRY</text><text x="444" y="541">PANTRY</text><text x="662" y="541">PANTRY</text><text x="771" y="541">PANTRY</text>
<text x="251" y="582">STO</text><text x="521" y="582">STO</text><text x="578" y="582">STO</text><text x="848" y="582">STO</text>
<text x="255" y="616">LAV</text><text x="524" y="616">LAV</text><text x="581" y="616">LAV</text><text x="850" y="616">LAV</text>
<text x="252" y="659">LAV</text><text x="523" y="659">LAV</text><text x="579" y="659">LAV</text><text x="851" y="659">LAV</text>
<text x="382" y="669">LIFT</text><text x="708" y="669">LIFT</text>
<text x="306" y="578" font-size="6.5">UP</text><text x="474" y="578" font-size="6.5">UP</text><text x="632" y="578" font-size="6.5">UP</text><text x="800" y="578" font-size="6.5">UP</text>
</g>
<g font-size="7" fill="#111" text-anchor="middle">
<text x="349" y="612">DPRM</text><text x="431" y="612">DPRM</text><text x="676" y="612">DPRM</text><text x="757" y="612">DPRM</text>
<text x="322" y="633">HR</text><text x="455" y="633">HR</text><text x="649" y="633">HR</text><text x="783" y="633">HR</text>
<text x="347" y="634">PD</text><text x="431" y="634">PD</text><text x="675" y="634">PD</text><text x="758" y="634">PD</text>
</g>
<g font-size="8.5" fill="#111">
<text x="317" y="650">ENTRANCE</text><text x="317" y="660">HALL</text>
<text x="421" y="650">ENTRANCE</text><text x="421" y="660">HALL</text>
<text x="643" y="650">ENTRANCE</text><text x="643" y="660">HALL</text>
<text x="748" y="650">ENTRANCE</text><text x="748" y="660">HALL</text>
</g>
<g fill="none" stroke="#111" stroke-width="0.6">
<circle cx="333" cy="429" r="12"/><circle cx="446" cy="429" r="12"/><circle cx="660" cy="429" r="12"/><circle cx="773" cy="429" r="12"/>
</g>
<g font-size="13" fill="#111" text-anchor="middle">
<text x="333" y="434">G5</text><text x="446" y="434">G3</text><text x="660" y="434">G2</text><text x="773" y="434">G1</text>
</g>

<g opacity="0.45">
<polyline points="678,555 700,512 722,555" fill="none" stroke="#8a8a8a" stroke-width="4"/>
<text x="745" y="555" font-size="44" fill="#8bc34a" font-weight="bold">好傢俬</text>
<text x="680" y="597" font-size="34" fill="#9ccc65" font-weight="bold">hkhomehk.com</text>
</g>
</svg>
</body></html>
